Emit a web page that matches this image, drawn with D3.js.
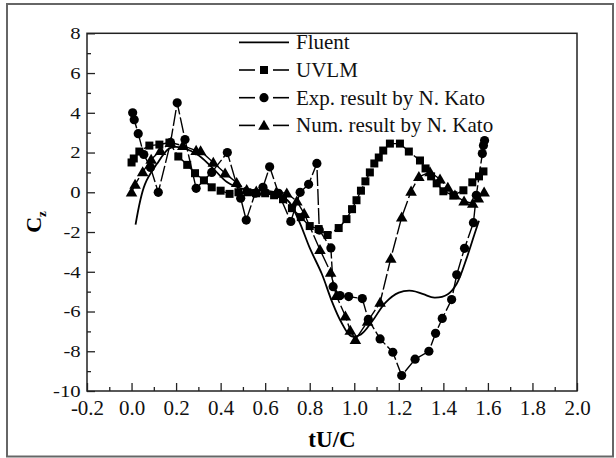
<!DOCTYPE html>
<html lang="en">
<head>
  <meta charset="UTF-8">
  <title>Cz vs tU/C</title>
  <script src="https://cdn.jsdelivr.net/npm/d3@7/dist/d3.min.js"></script>
  <style>
    html, body { margin: 0; padding: 0; background: #fff; }
    svg { display: block; }
  </style>
</head>
<body>
  <svg id="chart" width="616" height="458"></svg>
  <script>
    // data
    const fluentX = [0.018, 0.06, 0.114, 0.167, 0.2, 0.29, 0.36, 0.43, 0.5, 0.6, 0.7, 0.75, 0.8, 0.854, 0.9, 0.94, 0.986, 1.03, 1.08, 1.14, 1.2, 1.26, 1.31, 1.36, 1.42, 1.46, 1.505, 1.54, 1.56]
    const fluentY = [-1.63, 0.4, 1.43, 2.19, 2.28, 1.94, 1.27, 0.5, 0.17, 0.05, -0.4, -1.4, -2.8, -4.1, -5.5, -6.5, -7.24, -7.15, -6.5, -5.55, -5.05, -4.96, -5.13, -5.3, -5.13, -4.6, -3.3, -2.1, -1.43]

    const uvlmX = [0.0, 0.01, 0.035, 0.08, 0.125, 0.17, 0.21, 0.25, 0.285, 0.325, 0.36, 0.4, 0.44, 0.48, 0.52, 0.56, 0.6, 0.64, 0.68, 0.72, 0.76, 0.8, 0.84, 0.88, 0.93, 0.965, 0.99, 1.01, 1.03, 1.05, 1.07, 1.09, 1.11, 1.13, 1.16, 1.205, 1.245, 1.295, 1.32, 1.345, 1.37, 1.4, 1.445, 1.49, 1.53, 1.56, 1.58]
    const uvlmY = [1.5, 1.7, 2.05, 2.35, 2.4, 2.5, 1.8, 1.38, 0.96, 0.6, 0.25, 0.08, -0.08, 0.0, 0.0, -0.05, -0.05, -0.15, -0.35, -0.8, -1.25, -1.7, -1.85, -2.15, -1.8, -1.35, -0.85, -0.4, 0.08, 0.55, 1.0, 1.45, 1.75, 2.1, 2.45, 2.45, 2.05, 1.6, 1.2, 0.8, 0.45, 0.05, -0.15, 0.1, 0.5, 0.8, 1.05]

    const expX = [0.005, 0.012, 0.03, 0.055, 0.085, 0.12, 0.175, 0.205, 0.24, 0.29, 0.36, 0.43, 0.49, 0.515, 0.555, 0.59, 0.62, 0.66, 0.715, 0.757, 0.795, 0.832, 0.843, 0.895, 0.905, 0.936, 0.975, 1.036, 1.063, 1.116, 1.173, 1.213, 1.273, 1.335, 1.365, 1.395, 1.437, 1.46, 1.495, 1.535, 1.548, 1.575, 1.58, 1.585]
    const expY = [4.0, 3.65, 2.95, 1.9, 1.25, 0.0, 2.5, 4.5, 2.65, 0.2, 1.0, 2.0, -0.3, -1.4, -0.05, 0.25, 1.28, -0.05, -1.47, 0.0, 0.4, 1.45, -1.9, -2.8, -4.75, -5.2, -5.25, -5.35, -6.4, -7.38, -8.05, -9.22, -8.4, -8.0, -7.1, -6.35, -5.4, -4.15, -2.82, -1.53, -0.15, 1.95, 2.35, 2.6]

    const numX = [0.0, 0.016, 0.05, 0.088, 0.13, 0.175, 0.23, 0.29, 0.31, 0.367, 0.42, 0.472, 0.517, 0.56, 0.6, 0.65, 0.697, 0.742, 0.775, 0.846, 0.894, 0.919, 0.96, 0.982, 1.005, 1.06, 1.116, 1.164, 1.213, 1.255, 1.29, 1.34, 1.385, 1.42, 1.452, 1.493, 1.532, 1.557, 1.583]
    const numY = [0.0, 0.4, 1.02, 1.65, 2.1, 2.5, 2.35, 2.1, 2.08, 1.5, 0.96, 0.48, 0.13, 0.05, 0.1, 0.0, -0.04, -0.45, -1.07, -2.89, -4.03, -5.2, -6.23, -6.95, -7.42, -6.5, -5.54, -3.33, -1.25, 0.05, 0.78, 1.02, 0.66, 0.24, -0.15, -0.45, -0.56, -0.3, 0.0]

    const xTicks = [-0.2, 0.0, 0.2, 0.4, 0.6, 0.8, 1.0, 1.2, 1.4, 1.6, 1.8, 2.0]
    const xMinor = [-0.1, 0.1, 0.3, 0.5, 0.7, 0.9, 1.1, 1.3, 1.5, 1.7, 1.9]
    const yTicks = [-10, -8, -6, -4, -2, 0, 2, 4, 6, 8]
    const yMinor = [-9, -7, -5, -3, -1, 1, 3, 5, 7]

    const legendNames = ['Fluent', 'UVLM', 'Exp. result by N. Kato', 'Num. result by N. Kato']

    const serif = '"Liberation Serif", "Times New Roman", Times, "DejaVu Serif", serif'

    const svg = d3.select('#chart')
    const mLeft = 87, mRight = 577, mTop = 33.3, mBottom = 391

    // outer frame
    svg.append('rect')
      .attr('x', 7).attr('y', 4)
      .attr('width', 606).attr('height', 452.5)
      .attr('fill', 'none').attr('stroke', '#666').attr('stroke-width', 2)

    const x = d3.scaleLinear().domain([-0.2, 2.0]).range([mLeft, mRight])
    const y = d3.scaleLinear().domain([-10, 8]).range([mBottom, mTop])

    // axes, ticks pointing in
    const gx = svg.append('g').attr('transform', `translate(0,${mBottom})`)
      .call(d3.axisBottom(x).tickValues(xTicks).tickSize(-8).tickPadding(9).tickFormat(d => d.toFixed(1)))
    gx.selectAll('text').style('font-family', serif).style('font-size', '21px').attr('fill', '#111')
    svg.append('g').attr('transform', `translate(0,${mBottom})`)
      .call(d3.axisBottom(x).tickValues(xMinor).tickSize(-4).tickFormat(''))

    const gy = svg.append('g').attr('transform', `translate(${mLeft},0)`)
      .call(d3.axisLeft(y).tickValues(yTicks).tickSize(-8).tickPadding(5.2).tickFormat(d => String(d)))
    gy.selectAll('text').style('font-family', serif).style('font-size', '17px').attr('fill', '#111')
      .attr('transform', 'scale(1.22,1)')
    svg.append('g').attr('transform', `translate(${mLeft},0)`)
      .call(d3.axisLeft(y).tickValues(yMinor).tickSize(-4).tickFormat(''))

    svg.selectAll('.domain').remove()
    svg.selectAll('.tick line').attr('stroke', '#222').attr('stroke-width', 1.3)

    svg.append('rect')
      .attr('x', mLeft).attr('y', mTop)
      .attr('width', mRight - mLeft).attr('height', mBottom - mTop)
      .attr('fill', 'none').attr('stroke', '#222').attr('stroke-width', 1.5)

    // axis titles
    svg.append('text')
      .attr('x', (mLeft + mRight) / 2).attr('y', 447)
      .attr('text-anchor', 'middle')
      .style('font-family', serif)
      .style('font-size', '23px').style('font-weight', 'bold')
      .text('tU/C')

    const yt = svg.append('text')
      .attr('transform', 'translate(41,222) rotate(-90)')
      .attr('text-anchor', 'middle')
      .style('font-family', serif)
      .style('font-size', '22px').style('font-weight', 'bold')
    yt.append('tspan').text('C')
    yt.append('tspan').attr('dy', 5).style('font-size', '13px').text('z')

    // symbols
    function drawSymbol(g, type, cx, cy) {
      if (type === 'square') {
        g.append('rect').attr('x', cx - 4).attr('y', cy - 4).attr('width', 8).attr('height', 8).attr('fill', '#000')
      } else if (type === 'circle') {
        g.append('circle').attr('cx', cx).attr('cy', cy).attr('r', 4.6).attr('fill', '#000')
      } else if (type === 'triangle') {
        g.append('path').attr('d', d3.symbol(d3.symbolTriangle, 58)()).attr('transform', `translate(${cx},${cy + 1})`).attr('fill', '#000')
      }
    }

    const lineGen = d3.line().x(d => x(d[0])).y(d => y(d[1]))

    const series = [
      { xs: uvlmX, ys: uvlmY, sym: 'square' },
      { xs: numX, ys: numY, sym: 'triangle' },
      { xs: expX, ys: expY, sym: 'circle' }
    ]

    const plot = svg.append('g')
    series.forEach(s => {
      const pts = s.xs.map((v, i) => [v, s.ys[i]])
      plot.append('path')
        .attr('d', lineGen(pts))
        .attr('fill', 'none').attr('stroke', '#000').attr('stroke-width', 1.4)
        .attr('stroke-dasharray', '16,3')
      const g = plot.append('g')
      pts.forEach(p => drawSymbol(g, s.sym, x(p[0]), y(p[1])))
    })

    const fluentPts = fluentX.map((v, i) => [v, fluentY[i]])
    plot.append('path')
      .attr('d', d3.line().curve(d3.curveCatmullRom.alpha(0.5)).x(d => x(d[0])).y(d => y(d[1]))(fluentPts))
      .attr('fill', 'none').attr('stroke', '#000').attr('stroke-width', 1.8)

    // legend
    const syms = [null, 'square', 'circle', 'triangle']
    const lg = svg.append('g')
    legendNames.forEach((name, i) => {
      const ly = 42.3 + i * 27.7
      if (i === 0) {
        lg.append('line').attr('x1', 239).attr('x2', 289).attr('y1', ly).attr('y2', ly)
          .attr('stroke', '#000').attr('stroke-width', 1.8)
      } else {
        lg.append('line').attr('x1', 239).attr('x2', 255).attr('y1', ly).attr('y2', ly)
          .attr('stroke', '#000').attr('stroke-width', 1.6)
        lg.append('line').attr('x1', 273).attr('x2', 289).attr('y1', ly).attr('y2', ly)
          .attr('stroke', '#000').attr('stroke-width', 1.6)
        drawSymbol(lg, syms[i], 264, ly)
      }
      lg.append('text')
        .attr('x', 296).attr('y', ly + 7)
        .style('font-family', serif)
        .style('font-size', '21px')
        .attr('fill', '#111')
        .text(name)
    })
  </script>
</body>
</html>
